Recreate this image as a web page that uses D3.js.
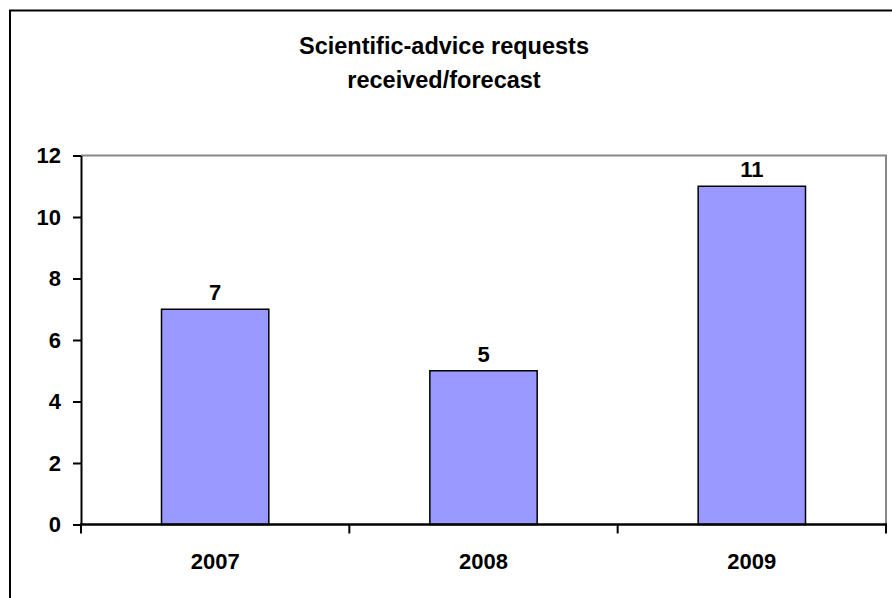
<!DOCTYPE html>
<html>
<head>
<meta charset="utf-8">
<script src="https://cdn.jsdelivr.net/npm/d3@7"></script>
<style>
  html, body { margin: 0; padding: 0; background: #fff; }
  svg { display: block; font-family: Arial, "Liberation Sans", sans-serif; }
</style>
</head>
<body>
<svg id="chart" width="892" height="598"></svg>
<script>
// Requests per year
const years = ["2007", "2008", "2009"];
const requests = [7, 5, 11];
const yTicks = [0, 2, 4, 6, 8, 10, 12];
const titleLines = ["Scientific-advice requests", "received/forecast"];

const svg = d3.select("#chart");
const W = 892, H = 598;
const plot = { left: 81, right: 886, top: 155.5, bottom: 524.5 };
const FONT = "Arial, 'Liberation Sans', sans-serif";

svg.append("rect").attr("width", W).attr("height", H).attr("fill", "#fff");

// outer frame (runs past the right and bottom edges)
svg.append("rect")
  .attr("x", 10).attr("y", 10.5).attr("width", W + 20).attr("height", H + 20)
  .attr("fill", "none").attr("stroke", "#000").attr("stroke-width", 2);

// title
svg.append("text")
  .attr("text-anchor", "middle")
  .attr("font-size", 23.5).attr("font-weight", "bold")
  .selectAll("tspan").data(titleLines).join("tspan")
  .attr("x", 444).attr("y", (d, i) => 54 + i * 34).text(d => d);

const x = d3.scaleBand().domain(years).range([plot.left, plot.right]).paddingInner(0.6).paddingOuter(0.3);
const xEdge = d3.scaleBand().domain(years).range([plot.left, plot.right]);
const y = d3.scaleLinear().domain([0, 12]).range([plot.bottom, plot.top]);

// plot area border: gray top and right
svg.append("path")
  .attr("d", `M${plot.left},${plot.top}H${plot.right}V${plot.bottom}`)
  .attr("fill", "none").attr("stroke", "#888").attr("stroke-width", 2);

// bars
svg.append("g").selectAll("rect").data(years).join("rect")
  .attr("x", d => x(d))
  .attr("y", (d, i) => y(requests[i]))
  .attr("width", x.bandwidth())
  .attr("height", (d, i) => y(0) - y(requests[i]))
  .attr("fill", "#9999FF").attr("stroke", "#000").attr("stroke-width", 1.5);

// value labels
svg.append("g").selectAll("text").data(years).join("text")
  .attr("x", d => x(d) + x.bandwidth() / 2)
  .attr("y", (d, i) => y(requests[i]) - 9)
  .attr("text-anchor", "middle")
  .attr("font-size", 22).attr("font-weight", "bold")
  .text((d, i) => requests[i]);

// y axis
const yAxis = svg.append("g").attr("transform", `translate(${plot.left},0)`)
  .call(d3.axisLeft(y).tickValues(yTicks).tickSize(8).tickPadding(12).tickSizeOuter(0));
yAxis.select(".domain").attr("stroke", "#000").attr("stroke-width", 2);
yAxis.selectAll(".tick line").attr("stroke", "#000").attr("stroke-width", 2);
yAxis.selectAll(".tick text").attr("font-size", 22).attr("font-weight", "bold")
  .attr("fill", "#000").attr("font-family", FONT);

// x axis: ticks at category boundaries
const xg = svg.append("g").attr("transform", `translate(0,${plot.bottom})`);
xg.append("line").attr("x1", plot.left - 1).attr("x2", plot.right + 1)
  .attr("stroke", "#000").attr("stroke-width", 2.5);
const edges = years.map(d => xEdge(d)).concat([plot.right]);
xg.selectAll("line.tk").data(edges).join("line").attr("class", "tk")
  .attr("x1", d => d).attr("x2", d => d).attr("y1", 0).attr("y2", 9)
  .attr("stroke", "#000").attr("stroke-width", 2);
xg.selectAll("text").data(years).join("text")
  .attr("x", d => xEdge(d) + xEdge.bandwidth() / 2)
  .attr("y", 44).attr("text-anchor", "middle")
  .attr("font-size", 22).attr("font-weight", "bold").text(d => d);
</script>
</body>
</html>
